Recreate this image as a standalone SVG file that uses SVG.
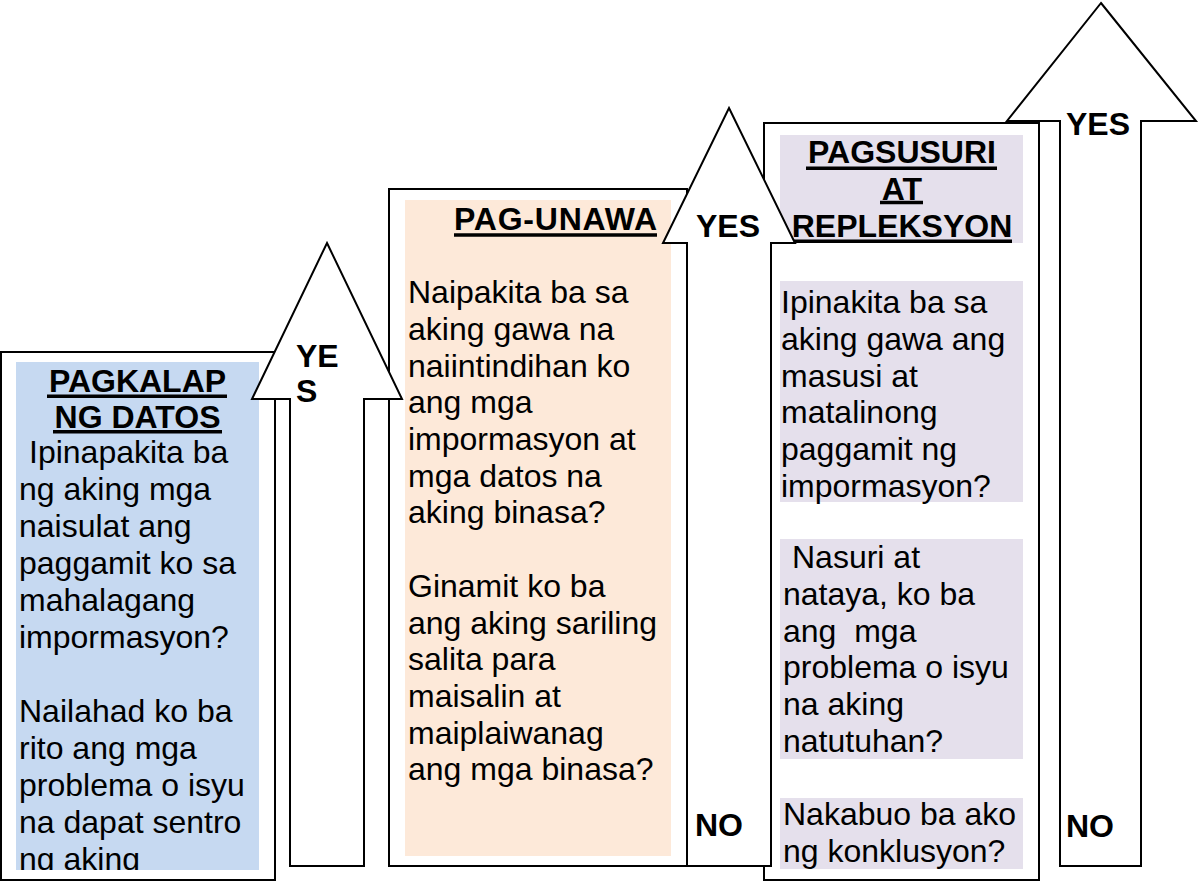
<svg xmlns="http://www.w3.org/2000/svg" width="1200" height="882" viewBox="0 0 1200 882">
<style>
.frame{fill:#fff;stroke:#000;stroke-width:2}
.arrow{fill:#fff;stroke:#000;stroke-width:2;stroke-linejoin:miter}
.body{font-family:"Liberation Sans",Arial,sans-serif;font-size:32px;fill:#000}
.title{font-family:"Liberation Sans",Arial,sans-serif;font-size:32px;font-weight:bold;fill:#000}
.ul{stroke:#000;stroke-width:3.5}
.lbl{font-family:"Liberation Sans",Arial,sans-serif;font-size:32px;font-weight:bold;fill:#000}
</style>
<defs>
<clipPath id="clipBlue"><rect x="16" y="362" width="243" height="508"/></clipPath>
</defs>
<rect x="0" y="0" width="1200" height="882" fill="#fff"/>

<g id="node-pagsusuri">
<rect class="frame" x="764" y="123" width="275" height="757"/>
<rect x="780" y="135" width="243" height="108" fill="#E5E0EC"/>
<rect x="780" y="281" width="243" height="221" fill="#E5E0EC"/>
<rect x="780" y="539" width="243" height="220" fill="#E5E0EC"/>
<rect x="780" y="798" width="243" height="71" fill="#E5E0EC"/>
<text class="title" text-anchor="middle" x="902" y="163">PAGSUSURI</text>
<text class="title" text-anchor="middle" x="902" y="200">AT</text>
<text class="title" text-anchor="middle" x="902" y="237">REPLEKSYON</text>
<line class="ul" x1="806" y1="168.3" x2="997" y2="168.3"/>
<line class="ul" x1="880" y1="202.5" x2="923" y2="202.5"/>
<line class="ul" x1="793" y1="241.3" x2="1012" y2="241.3"/>
<text class="body">
<tspan x="781" y="313">Ipinakita ba sa</tspan>
<tspan x="781" y="350">aking gawa ang</tspan>
<tspan x="781" y="387">masusi at</tspan>
<tspan x="781" y="423">matalinong</tspan>
<tspan x="781" y="460">paggamit ng</tspan>
<tspan x="781" y="497">impormasyon?</tspan>
</text>
<text class="body" xml:space="preserve"><tspan x="792" y="568">Nasuri at</tspan><tspan x="783" y="605">nataya, ko ba</tspan><tspan x="783" y="642">ang  mga</tspan><tspan x="783" y="678">problema o isyu</tspan><tspan x="783" y="715">na aking</tspan><tspan x="783" y="752">natutuhan?</tspan></text>
<text class="body">
<tspan x="783" y="825">Nakabuo ba ako</tspan>
<tspan x="783" y="862">ng konklusyon?</tspan>
</text>
</g>

<g id="node-pagkalap">
<rect class="frame" x="1" y="352" width="274" height="528"/>
<rect x="16" y="362" width="243" height="508" fill="#C6D9F1"/>
<text class="title" text-anchor="middle" x="137.5" y="392">PAGKALAP</text>
<text class="title" text-anchor="middle" x="137.5" y="428">NG DATOS</text>
<line class="ul" x1="47" y1="396.3" x2="227" y2="396.3"/>
<line class="ul" x1="53" y1="431.7" x2="222" y2="431.7"/>
<g clip-path="url(#clipBlue)">
<text class="body">
<tspan x="29" y="463">Ipinapakita ba</tspan>
<tspan x="19" y="500">ng aking mga</tspan>
<tspan x="19" y="537">naisulat ang</tspan>
<tspan x="19" y="574">paggamit ko sa</tspan>
<tspan x="19" y="611">mahalagang</tspan>
<tspan x="19" y="648">impormasyon?</tspan>
<tspan x="19" y="722">Nailahad ko ba</tspan>
<tspan x="19" y="759">rito ang mga</tspan>
<tspan x="19" y="796">problema o isyu</tspan>
<tspan x="19" y="833">na dapat sentro</tspan>
<tspan x="19" y="870">ng aking</tspan>
</text>
</g>
</g>

<g id="node-pagunawa">
<rect class="frame" x="389" y="189" width="298" height="677"/>
<rect x="405" y="200" width="266" height="656" fill="#FDE9D9"/>
<text class="title" x="454" y="230" textLength="203" lengthAdjust="spacing">PAG-UNAWA</text>
<line class="ul" x1="454" y1="235" x2="657" y2="235"/>
<text class="body">
<tspan x="408" y="303">Naipakita ba sa</tspan>
<tspan x="408" y="340">aking gawa na</tspan>
<tspan x="408" y="377">naiintindihan ko</tspan>
<tspan x="408" y="413">ang mga</tspan>
<tspan x="408" y="450">impormasyon at</tspan>
<tspan x="408" y="487">mga datos na</tspan>
<tspan x="408" y="523">aking binasa?</tspan>
<tspan x="408" y="597">Ginamit ko ba</tspan>
<tspan x="408" y="634">ang aking sariling</tspan>
<tspan x="408" y="670">salita para</tspan>
<tspan x="408" y="707">maisalin at</tspan>
<tspan x="408" y="744">maiplaiwanag</tspan>
<tspan x="408" y="780">ang mga binasa?</tspan>
</text>
</g>

<g id="connectors">
<g id="arrow-1">
<polygon class="arrow" points="327,243 402,399 364,399 364,866 290,866 290,399 252,399"/>
<text class="lbl" x="296" y="367">YE</text>
<text class="lbl" x="296" y="402">S</text>
</g>
<g id="arrow-2">
<polygon class="arrow" points="729,108 795,243 771,243 771,866 687,866 687,243 663,243"/>
<text class="lbl" x="696" y="237">YES</text>
<text class="lbl" x="695" y="836">NO</text>
</g>
<g id="arrow-3">
<polygon class="arrow" points="1101,3 1196,121 1141,121 1141,866 1060,866 1060,121 1007,121"/>
<text class="lbl" x="1066" y="135">YES</text>
<text class="lbl" x="1066" y="837">NO</text>
</g>
</g>
</svg>
